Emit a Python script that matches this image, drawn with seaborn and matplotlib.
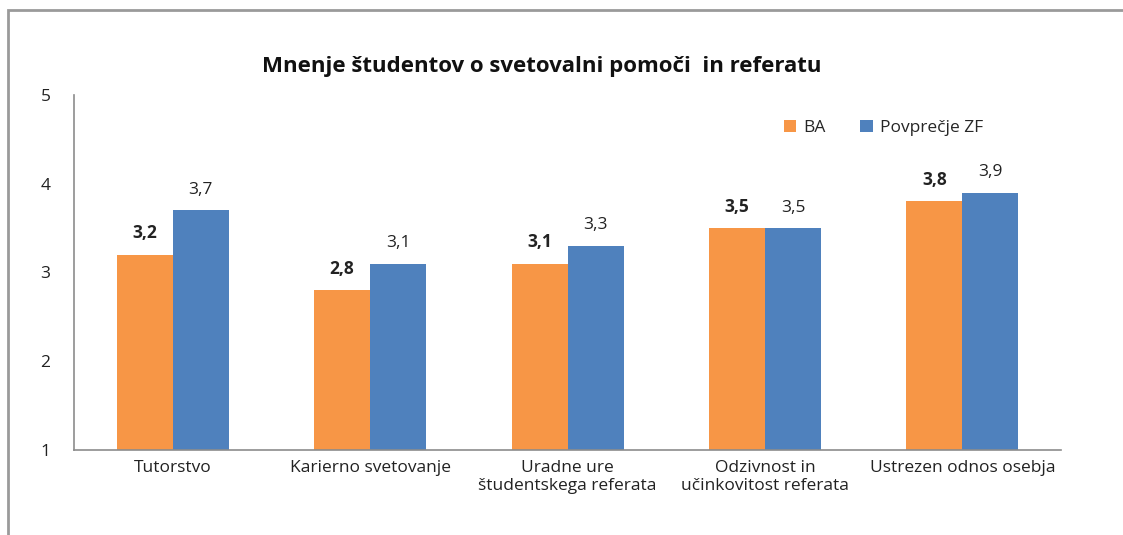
import pandas as pd
import seaborn as sns
import matplotlib.pyplot as plt
from matplotlib.patches import Rectangle

categories = ["Tutorstvo", "Karierno svetovanje", "Uradne ure\nštudentskega referata",
              "Odzivnost in\nučinkovitost referata", "Ustrezen odnos osebja"]
ba_values = [3.2, 2.8, 3.1, 3.5, 3.8]
zf_values = [3.7, 3.1, 3.3, 3.5, 3.9]
series_names = ["BA", "Povprečje ZF"]
yticks = [1, 2, 3, 4, 5]

df = pd.DataFrame({
    "kategorija": categories * 2,
    "vrednost": ba_values + zf_values,
    "serija": [series_names[0]] * len(categories) + [series_names[1]] * len(categories),
})

sns.set_style("white")
plt.rcParams["font.family"] = ["Open Sans", "DejaVu Sans"]

fig = plt.figure(figsize=(11.23, 5.35), dpi=100)
ax = fig.add_axes([0.0659, 0.1589, 0.879, 0.6636])

sns.barplot(
    data=df, x="kategorija", y="vrednost", hue="serija",
    palette=["#F79646", "#4F81BD"], width=0.567, gap=0,
    saturation=1, linewidth=0, ax=ax, legend=True,
)

ax.set_ylim(1, 5)
ax.set_yticks(yticks)
ax.set_xlim(-0.5, len(categories) - 0.5)
ax.set_xlabel("")
ax.set_ylabel("")
ax.tick_params(axis="both", length=0, labelsize=12.5, colors="#222222")
ax.tick_params(axis="y", pad=17)
ax.tick_params(axis="x", pad=7)
for lbl in ax.get_xticklabels():
    lbl.set_linespacing(1.15)

for s in ["top", "right"]:
    ax.spines[s].set_visible(False)
for s in ["left", "bottom"]:
    ax.spines[s].set_color("#8c8c8c")
    ax.spines[s].set_linewidth(1.2)

# data labels
for i, cont in enumerate(ax.containers):
    labels = [f"{v:.1f}".replace(".", ",") for v in (ba_values if i == 0 else zf_values)]
    ax.bar_label(cont, labels=labels, padding=9, fontsize=12.5,
                 fontweight="bold" if i == 0 else "normal", color="#222222")

ax.legend(loc="center", bbox_to_anchor=(0.82, 0.907), ncol=2, frameon=False,
          fontsize=12.5, handlelength=0.7, handleheight=0.7, handletextpad=0.4,
          columnspacing=2.0, title=None)

fig.text(0.482, 0.875, "Mnenje študentov o svetovalni pomoči  in referatu",
         ha="center", va="center", fontsize=16, fontweight="bold",
         family=["Open Sans", "DejaVu Sans"], color="#111111")

# outer chart frame
fig.add_artist(Rectangle((0.0067, -0.5), 2.0, 1.4813, transform=fig.transFigure,
                         fill=False, edgecolor="#9a9a9a", linewidth=2))

fig.savefig("out.png", dpi=100)
